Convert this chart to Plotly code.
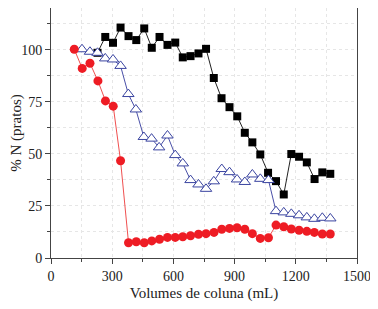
import plotly.graph_objects as go

# Black squares
x_black = [228, 266, 304, 341, 380, 418, 457, 494, 532, 571, 609, 646, 684, 723, 760,
           798, 836, 875, 913, 950, 987, 1026, 1064, 1103, 1141, 1178, 1216, 1254, 1292, 1330, 1369]
y_black = [98.5, 106.1, 103.3, 110.6, 106.5, 104.6, 110.2, 100.9, 106.1, 102.3, 103.4,
           96.3, 96.9, 98.2, 100.4, 86.4, 76.7, 72.4, 68.0, 60.1, 55.5, 49.7, 40.9, 36.9, 30.5,
           49.9, 48.6, 45.9, 37.9, 41.1, 40.4]

# Blue open triangles
x_blue = [152, 191, 228, 266, 304, 341, 379, 416, 455, 493, 530, 571, 609, 646, 684, 723, 760,
          798, 837, 875, 912, 950, 987, 1026, 1066, 1103, 1141, 1178, 1216, 1254, 1291, 1330, 1369]
y_blue = [100.2, 99.0, 98.5, 95.8, 95.3, 92.2, 78.7, 71.3, 58.1, 57.3, 53.1, 58.8, 49.4, 45.4,
          37.4, 35.3, 33.2, 36.8, 42.7, 41.2, 37.7, 36.5, 40.1, 38.0, 37.4, 22.5, 21.9, 21.2,
          20.5, 19.5, 18.8, 19.3, 19.0]

# Red circles
x_red = [114, 153, 191, 230, 267, 305, 341, 380, 418, 457, 494, 532, 571, 609, 646, 684, 723,
         760, 799, 837, 875, 912, 950, 987, 1026, 1066, 1103, 1141, 1178, 1216, 1254, 1291, 1330, 1369]
y_red = [100.2, 91.0, 93.5, 85.0, 75.4, 72.9, 46.7, 7.3, 7.8, 7.3, 8.2, 9.0, 9.9, 9.9, 10.2, 10.7,
         11.4, 11.7, 12.3, 13.8, 14.2, 14.5, 13.8, 11.7, 9.4, 9.7, 15.8, 15.0, 13.9, 13.3, 12.8,
         12.3, 11.5, 11.5]

x_ticks = [0, 300, 600, 900, 1200, 1500]
y_ticks = [0, 25, 50, 75, 100]

fig = go.Figure()
fig.add_trace(go.Scatter(
    x=x_black, y=y_black, mode="lines+markers",
    line=dict(color="#222222", width=1),
    marker=dict(symbol="square", size=8, color="#000000", line=dict(width=0)),
    showlegend=False))
fig.add_trace(go.Scatter(
    x=x_blue, y=y_blue, mode="lines+markers",
    line=dict(color="#4a50a8", width=1),
    marker=dict(symbol="triangle-up", size=10, color="white", line=dict(color="#3a44a0", width=1)),
    showlegend=False))
fig.add_trace(go.Scatter(
    x=x_red, y=y_red, mode="lines+markers",
    line=dict(color="#f05050", width=1),
    marker=dict(symbol="circle", size=9, color="#ee1c24", line=dict(width=0)),
    showlegend=False))

SERIF = "Liberation Serif"
font = dict(family=SERIF, size=14, color="#222222")

fig.update_layout(
    width=370, height=301,
    margin=dict(l=43, r=21, t=0, b=51),
    paper_bgcolor="white", plot_bgcolor="white",
    font=font,
)
fig.update_xaxes(
    range=[0, 1500], tickmode="array", tickvals=x_ticks, ticktext=[str(v) for v in x_ticks],
    ticks="outside", ticklen=5, tickwidth=1, tickcolor="#444",
    tickfont=dict(family=SERIF, size=14),
    showline=True, linecolor="#444", linewidth=1, mirror=True, zeroline=False,
    showgrid=True, gridcolor="#e6e6e6", griddash="dot", gridwidth=1,
    minor=dict(dtick=150, tick0=0, ticks="outside", ticklen=3, tickcolor="#444",
               showgrid=True, gridcolor="#e6e6e6", griddash="dot"),
    title=dict(text="Volumes de coluna (mL)", font=dict(family=SERIF, size=15), standoff=4))
fig.update_yaxes(
    range=[0, 120], tickmode="array", tickvals=y_ticks, ticktext=[str(v) for v in y_ticks],
    ticks="outside", ticklen=5, tickwidth=1, tickcolor="#444",
    tickfont=dict(family=SERIF, size=14),
    showline=True, linecolor="#444", linewidth=1, mirror=True, zeroline=False,
    showgrid=True, gridcolor="#e6e6e6", griddash="dot", gridwidth=1,
    minor=dict(dtick=12.5, tick0=0, ticks="outside", ticklen=3, tickcolor="#444",
               showgrid=True, gridcolor="#e6e6e6", griddash="dot"),
    title=dict(text="% N (pratos)", font=dict(family=SERIF, size=15), standoff=4))

fig.write_html("out.html")
